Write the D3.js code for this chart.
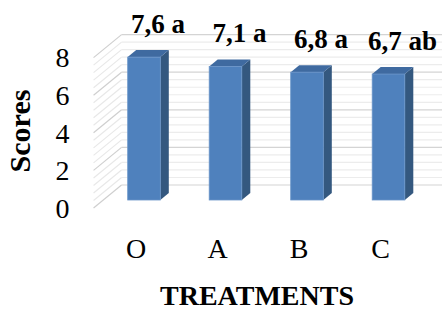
<!DOCTYPE html>
<html lang="en">
<head>
  <meta charset="UTF-8">
  <title>Scores by treatment</title>
  <script src="https://d3js.org/d3.v7.min.js"></script>
  <style>
    body { margin: 0; background: #fff; }
    text { font-family: "Liberation Serif", "Times New Roman", serif; fill: #000; }
  </style>
</head>
<body>
  <script>
    // chart values
    const treatments = ['O', 'A', 'B', 'C'];
    const scores = [7.6, 7.1, 6.8, 6.7];
    const letters = ['a', 'a', 'a', 'ab'];
    const yTicks = [0, 2, 4, 6, 8];

    const width = 442;
    const height = 312;

    // fake 3D: offsets measured from the bar front plane
    const barDepth = { dx: 8.5, dy: -7 };    // bar back face
    const backWall = { dx: 18.3, dy: -15 };  // back wall plane
    const frontEdge = { dx: -9.7, dy: 8 };   // front edge of side wall

    const svg = d3.select('body')
      .append('svg')
      .attr('width', width)
      .attr('height', height);

    const x = d3.scaleBand()
      .domain(treatments)
      .range([103.25, 429.25])
      .paddingInner(0.6)
      .paddingOuter(0.3);

    const y = d3.scaleLinear()
      .domain([0, 8])
      .range([200, 49.6]);

    // gridlines every 0.4 (excel minor unit), majors every 2
    const grid = d3.range(0, 8.001, 0.4).map(v => +v.toFixed(1));
    const isMajor = v => Math.abs(v / 2 - Math.round(v / 2)) < 1e-6;

    const x0 = x.range()[0];
    const gridG = svg.append('g');

    // side wall lines
    gridG.selectAll('line.side')
      .data(grid)
      .enter()
      .append('line')
      .attr('class', 'side')
      .attr('x1', x0 + frontEdge.dx)
      .attr('y1', d => y(d) + frontEdge.dy)
      .attr('x2', x0 + backWall.dx)
      .attr('y2', d => y(d) + backWall.dy)
      .attr('stroke', d => isMajor(d) ? '#cfcfcf' : '#e8e8e8')
      .attr('stroke-width', 1.2);

    // back wall lines
    gridG.selectAll('line.back')
      .data(grid)
      .enter()
      .append('line')
      .attr('class', 'back')
      .attr('x1', x0 + backWall.dx)
      .attr('y1', d => y(d) + backWall.dy)
      .attr('x2', width)
      .attr('y2', d => y(d) + backWall.dy)
      .attr('stroke', d => isMajor(d) ? '#d4d4d4' : '#ececec')
      .attr('stroke-width', 1.2);

    // bars
    const bars = svg.selectAll('g.bar')
      .data(treatments.map((t, i) => ({ t, v: scores[i], l: letters[i] })))
      .enter()
      .append('g')
      .attr('class', 'bar');

    const pts = arr => arr.map(p => p.join(',')).join(' ');

    // side face
    bars.append('polygon')
      .attr('points', d => {
        const xr = x(d.t) + x.bandwidth();
        return pts([[xr, y(d.v)], [xr + barDepth.dx, y(d.v) + barDepth.dy],
          [xr + barDepth.dx, y(0) + barDepth.dy], [xr, y(0)]]);
      })
      .attr('fill', '#34587f');

    // top face
    bars.append('polygon')
      .attr('points', d => {
        const xl = x(d.t);
        const xr = xl + x.bandwidth();
        return pts([[xl, y(d.v)], [xl + barDepth.dx, y(d.v) + barDepth.dy],
          [xr + barDepth.dx, y(d.v) + barDepth.dy], [xr, y(d.v)]]);
      })
      .attr('fill', '#3f6aa0');

    // front face
    bars.append('rect')
      .attr('x', d => x(d.t))
      .attr('y', d => y(d.v))
      .attr('width', x.bandwidth())
      .attr('height', d => y(0) - y(d.v))
      .attr('fill', '#4f81bd')
      .attr('stroke', '#6a95c9')
      .attr('stroke-width', 0.8);

    // value labels
    const fmt = d3.format('.1f');
    bars.append('text')
      .attr('x', d => x(d.t) + x.bandwidth() / 2 + 14)
      .attr('y', d => y(d.v) - 24.5)
      .attr('text-anchor', 'middle')
      .style('font-size', '27px')
      .style('font-weight', 'bold')
      .text(d => fmt(d.v).replace('.', ',') + ' ' + d.l);

    // y tick labels, on the front edge
    svg.append('g')
      .selectAll('text')
      .data(yTicks)
      .enter()
      .append('text')
      .attr('x', 62.5)
      .attr('y', d => y(d) + frontEdge.dy)
      .attr('dy', '0.35em')
      .attr('text-anchor', 'middle')
      .style('font-size', '28px')
      .text(d => d);

    // category labels
    svg.append('g')
      .selectAll('text')
      .data(treatments)
      .enter()
      .append('text')
      .attr('x', d => x(d) + x.bandwidth() / 2 - 8)
      .attr('y', 258)
      .attr('text-anchor', 'middle')
      .style('font-size', '28px')
      .text(d => d);

    // axis titles
    svg.append('text')
      .attr('x', 257)
      .attr('y', 305)
      .attr('text-anchor', 'middle')
      .style('font-size', '28px')
      .style('font-weight', 'bold')
      .text('TREATMENTS');

    svg.append('text')
      .attr('transform', 'translate(30,131) rotate(-90)')
      .attr('text-anchor', 'middle')
      .style('font-size', '30px')
      .style('font-weight', 'bold')
      .text('Scores');
  </script>
</body>
</html>
